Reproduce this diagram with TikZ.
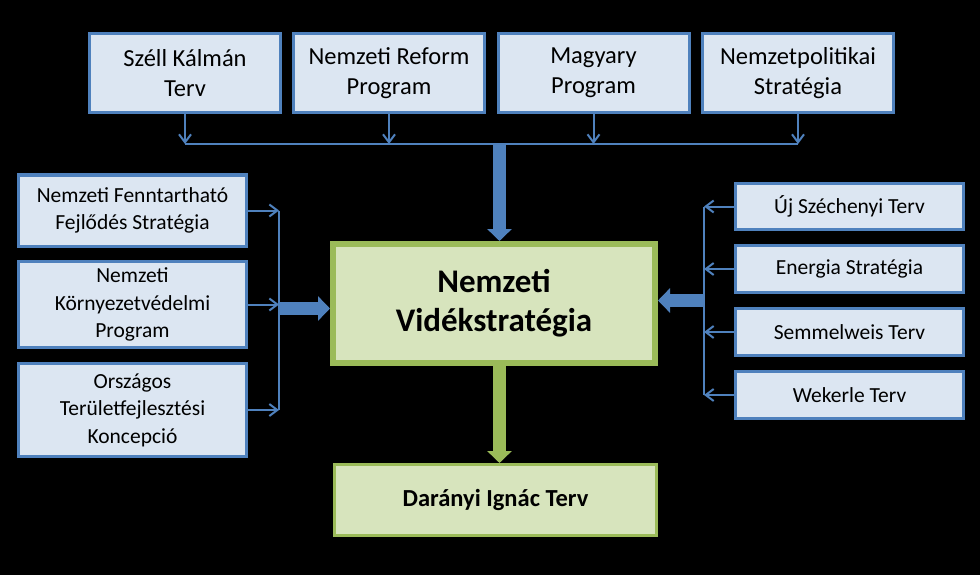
\documentclass[tikz,border=0pt]{standalone}
\usepackage{fontspec}
\setmainfont{Carlito}
\usetikzlibrary{arrows.meta}
\definecolor{boxblue}{HTML}{4F81BD}
\definecolor{fillblue}{HTML}{DCE6F2}
\definecolor{boxgreen}{HTML}{9BBB59}
\definecolor{fillgreen}{HTML}{D7E4BD}
\begin{document}
\begin{tikzpicture}[x=1pt, y=-1pt,
every node/.style={align=center, inner sep=0pt, text=black},
source/.style={draw=boxblue, fill=fillblue, line width=3pt,
    minimum width=191pt, minimum height=79pt, font=\fontsize{24.5}{30}\selectfont},
side/.style={source, minimum width=228pt, font=\fontsize{21.5}{27.5}\selectfont},
target/.style={draw=boxgreen, fill=fillgreen, line width=3pt},
feed/.style={draw=boxblue, line width=2pt, -{Straight Barb[length=8pt,width=12pt]}},
bus/.style={draw=boxblue, line width=2pt},
fat/.style={line width=13pt, -{Triangle[length=12pt,width=24pt]}}
]
\fill[black] (0,0) rectangle (980,575);
\useasboundingbox (0,0) rectangle (980,575);

% top row
\node[source] (t1) at (185,73) {Széll Kálmán\\Terv};
\node[source] (t2) at (389,73) {Nemzeti Reform\\Program};
\node[source] (t3) at (593.5,73) {Magyary\\Program};
\node[source] (t4) at (798,73) {Nemzetpolitikai\\Stratégia};

% left column
\node[side, minimum height=71pt] (l1) at (132.5,210.5) {Nemzeti Fenntartható\\Fejlődés Stratégia};
\node[side, minimum height=86pt] (l2) at (132.5,304.5) {Nemzeti\\Környezetvédelmi\\Program};
\node[side, minimum height=93pt] (l3) at (132.5,410) {Országos\\Területfejlesztési\\Koncepció};

% right column
\node[side, minimum height=46pt] (r1) at (849.5,206.5) {Új Széchenyi Terv};
\node[side, minimum height=47pt] (r2) at (849.5,269) {Energia Stratégia};
\node[side, minimum height=47pt] (r3) at (849.5,332) {Semmelweis Terv};
\node[side, minimum height=47pt] (r4) at (849.5,395) {Wekerle Terv};

\node[target, line width=6pt, minimum width=322pt, minimum height=119pt,
    font=\bfseries\fontsize{33}{39}\selectfont] (vision) at (494,303.5) {Nemzeti\\Vidékstratégia};
\node[target, minimum width=322pt, minimum height=71pt,
    font=\bfseries\fontsize{24.5}{30}\selectfont] (plan) at (495.5,500) {Darányi Ignác Terv};

\coordinate (tbus) at (499.5,144);
\coordinate (lbus) at (279,308.5);
\coordinate (rbus) at (704,300.5);

\foreach \n in {t1,t2,t3,t4}
    \draw[feed] (\n.south) -- (\n.south |- tbus);
\draw[bus] (t1.south |- tbus) -- (t4.south |- tbus);
\foreach \n in {l1,l2,l3}
    \draw[feed] (\n.east) -- (\n.east -| lbus);
\draw[bus] (l1.east -| lbus) -- (l3.east -| lbus);
\foreach \n in {r1,r2,r3,r4}
    \draw[feed] (\n.west) -- (\n.west -| rbus);
\draw[bus] (r1.west -| rbus) -- (r4.west -| rbus);

\draw[fat, boxblue] (tbus) -- (tbus |- vision.north);
\draw[fat, boxblue] (lbus) -- (lbus -| vision.west);
\draw[fat, boxblue] (rbus) -- (rbus -| vision.east);
\draw[fat, boxgreen] (tbus |- vision.south) -- (tbus |- plan.north);
\end{tikzpicture}
\end{document}
